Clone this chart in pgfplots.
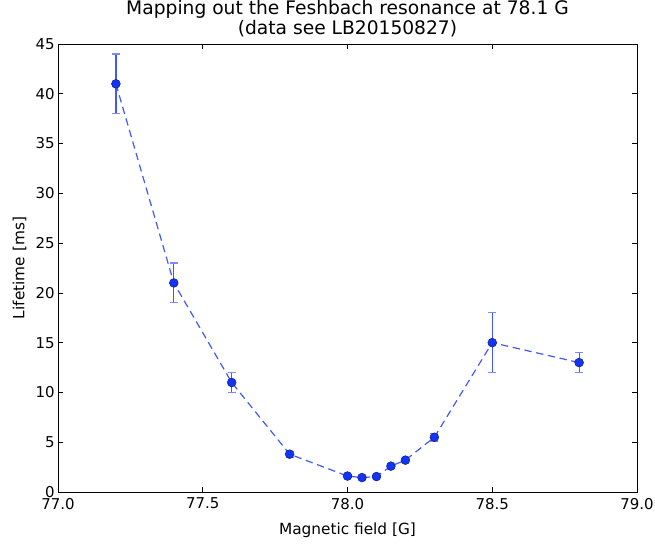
\documentclass[border=0pt]{standalone}
\usepackage{fontspec}
\setmainfont{DejaVu Sans}
\usepackage{pgfplots}
\pgfplotsset{compat=1.18}
\definecolor{mblue}{rgb}{0.08,0.2,0.95}
\definecolor{lblue}{rgb}{0.25,0.35,1.0}
\begin{document}
\begin{tikzpicture}
\begin{axis}[
  scale only axis,
  width=434.25pt, height=336pt,
  xmin=77.0, xmax=79.0, ymin=0, ymax=45,
  xtick={77.0,77.5,78.0,78.5,79.0},
  xticklabels={77.0,77.5,78.0,78.5,79.0},
  ytick={0,5,10,15,20,25,30,35,40,45},
  tick align=inside,
  major tick length=3.5pt,
  tick style={black, line width=0.5pt},
  minor tick num=0,
  axis line style={line width=0.6pt},
  ticklabel style={font=\fontsize{11.2}{13}\selectfont},
  xticklabel style={yshift=-1pt},
  yticklabel style={xshift=1pt},
  /pgf/number format/assume math mode=true,
  xlabel={Magnetic field [G]},
  ylabel={Lifetime [ms]},
  label style={font=\fontsize{11.5}{13}\selectfont},
  xlabel style={yshift=-3pt},
  ylabel style={yshift=0pt},
  title={Mapping out the Feshbach resonance at 78.1 G\\(data see LB20150827)},
  title style={font=\fontsize{14}{13.5}\selectfont, align=center, yshift=-4pt},
]
\coordinate (bl) at (rel axis cs:0,0);
\coordinate (tr) at (rel axis cs:1,1);
\addplot[
  color=lblue, line width=0.9pt, dash pattern=on 5.5pt off 3.5pt,
  mark=*, mark size=3.3pt,
  mark options={solid, fill=mblue, draw=mblue!60!black, line width=0.4pt},
  error bars/.cd, y dir=both, y explicit,
  error bar style={draw=lblue, solid, line width=0.9pt},
  error mark options={rotate=90, mark size=3pt, draw=lblue!70, solid, line width=0.9pt},
] table[x=x, y=y, y error=e] {
x      y    e
77.2   41   3
77.4   21   2
77.6   11   1
77.8   3.8  0.3
78.0   1.6  0.15
78.05  1.45 0.1
78.1   1.55 0.1
78.15  2.6  0.2
78.2   3.2  0.2
78.3   5.5  0.4
78.5   15   3
78.8   13   1
};
\end{axis}
\pgfresetboundingbox
\path[use as bounding box] ([shift={(-43.5pt,-39.75pt)}]bl) rectangle ([shift={(13.5pt,33pt)}]tr);
\end{tikzpicture}
\end{document}
